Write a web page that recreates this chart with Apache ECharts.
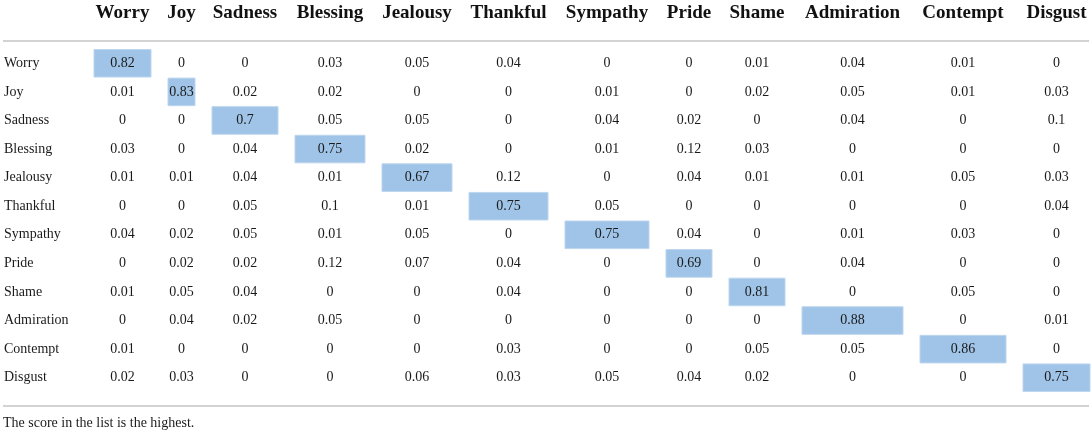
<!DOCTYPE html>
<html>
<head>
<meta charset="utf-8">
<script src="https://cdn.jsdelivr.net/npm/echarts@6/dist/echarts.min.js"></script>
<style>
html, body { margin: 0; background: #fff; }
#main { width: 1092px; height: 434px; }
</style>
</head>
<body>
<div id="main"></div>
<script>
// 情感分类混淆矩阵（表格形式）

const emotions = ['Worry', 'Joy', 'Sadness', 'Blessing', 'Jealousy', 'Thankful',
    'Sympathy', 'Pride', 'Shame', 'Admiration', 'Contempt', 'Disgust'];

const rowWorry      = [0.82, 0, 0, 0.03, 0.05, 0.04, 0, 0, 0.01, 0.04, 0.01, 0];
const rowJoy        = [0.01, 0.83, 0.02, 0.02, 0, 0, 0.01, 0, 0.02, 0.05, 0.01, 0.03];
const rowSadness    = [0, 0, 0.7, 0.05, 0.05, 0, 0.04, 0.02, 0, 0.04, 0, 0.1];
const rowBlessing   = [0.03, 0, 0.04, 0.75, 0.02, 0, 0.01, 0.12, 0.03, 0, 0, 0];
const rowJealousy   = [0.01, 0.01, 0.04, 0.01, 0.67, 0.12, 0, 0.04, 0.01, 0.01, 0.05, 0.03];
const rowThankful   = [0, 0, 0.05, 0.1, 0.01, 0.75, 0.05, 0, 0, 0, 0, 0.04];
const rowSympathy   = [0.04, 0.02, 0.05, 0.01, 0.05, 0, 0.75, 0.04, 0, 0.01, 0.03, 0];
const rowPride      = [0, 0.02, 0.02, 0.12, 0.07, 0.04, 0, 0.69, 0, 0.04, 0, 0];
const rowShame      = [0.01, 0.05, 0.04, 0, 0, 0.04, 0, 0, 0.81, 0, 0.05, 0];
const rowAdmiration = [0, 0.04, 0.02, 0.05, 0, 0, 0, 0, 0, 0.88, 0, 0.01];
const rowContempt   = [0.01, 0, 0, 0, 0, 0.03, 0, 0, 0.05, 0.05, 0.86, 0];
const rowDisgust    = [0.02, 0.03, 0, 0, 0.06, 0.03, 0.05, 0.04, 0.02, 0, 0, 0.75];

const matrix = [rowWorry, rowJoy, rowSadness, rowBlessing, rowJealousy, rowThankful,
    rowSympathy, rowPride, rowShame, rowAdmiration, rowContempt, rowDisgust];

const footnote = 'The score in the list is the highest.';

// 版式：列宽跟表头文字宽度一致，列间距固定
const colWidths = [57, 27, 66, 70, 70, 79, 84, 46, 56, 101, 86, 67];
const firstColLeft = 94;
const colGap = 17;
const colLeft = [];
colWidths.reduce((x, w) => { colLeft.push(x); return x + w + colGap; }, firstColLeft);

const serif = '"Liberation Serif", "Times New Roman", serif';
const boxColor = '#9fc4e7';

// 每行最大值高亮
const cellData = [];
matrix.forEach((row, r) => {
    const max = Math.max(...row);
    row.forEach((v, c) => {
        cellData.push([colLeft[c], r, v, c, v === max ? 1 : 0]);
    });
});
const headerData = emotions.map((name, c) => [colLeft[c], 0, c]);

const chart = echarts.init(document.getElementById('main'));
chart.setOption({
    animation: false,
    title: {
        text: footnote,
        left: 3,
        top: 416,
        padding: 0,
        textStyle: { fontFamily: serif, fontSize: 14, fontWeight: 'normal', color: '#1a1a1a' }
    },
    grid: { left: 0, right: 0, top: 49, bottom: 42 },
    xAxis: { type: 'value', min: 0, max: 1092, show: false },
    yAxis: {
        type: 'category',
        data: emotions,
        inverse: true,
        axisLine: { show: false },
        axisTick: { show: false },
        splitLine: { show: false },
        axisLabel: {
            inside: true,
            margin: 4,
            fontFamily: serif,
            fontSize: 14,
            color: '#1a1a1a'
        }
    },
    graphic: [
        { type: 'line', shape: { x1: 3, y1: 41, x2: 1089, y2: 41 }, style: { stroke: '#d3d3d3', lineWidth: 2 } },
        { type: 'line', shape: { x1: 3, y1: 406, x2: 1089, y2: 406 }, style: { stroke: '#d3d3d3', lineWidth: 2 } }
    ],
    series: [
        {
            type: 'custom',
            name: 'cells',
            silent: true,
            data: cellData,
            encode: { x: 0, y: 1 },
            renderItem: function (params, api) {
                const c = api.value(3);
                const p = api.coord([api.value(0), api.value(1)]);
                const w = api.size([colWidths[c], 0])[0];
                const h = api.size([0, 1])[1];
                const children = [];
                if (api.value(4)) {
                    children.push({
                        type: 'rect',
                        shape: { x: p[0], y: p[1] - h / 2 + 0.5, width: w, height: h - 1 },
                        style: { fill: boxColor, stroke: '#bdd6ef', lineWidth: 1 }
                    });
                }
                children.push({
                    type: 'text',
                    style: {
                        text: String(api.value(2)),
                        x: p[0] + w / 2,
                        y: p[1],
                        align: 'center',
                        verticalAlign: 'middle',
                        fontFamily: serif,
                        fontSize: 14,
                        fill: '#1a1a1a'
                    }
                });
                return { type: 'group', children: children };
            }
        },
        {
            type: 'custom',
            name: 'headers',
            silent: true,
            data: headerData,
            encode: { x: 0, y: 1 },
            renderItem: function (params, api) {
                const c = api.value(2);
                const p = api.coord([api.value(0), 0]);
                const w = api.size([colWidths[c], 0])[0];
                return {
                    type: 'text',
                    style: {
                        text: emotions[c],
                        x: p[0] + w / 2,
                        y: params.coordSys.y - 36,
                        align: 'center',
                        verticalAlign: 'middle',
                        fontFamily: serif,
                        fontSize: 19,
                        fontWeight: 'bold',
                        fill: '#111'
                    }
                };
            }
        }
    ]
});
</script>
</body>
</html>
